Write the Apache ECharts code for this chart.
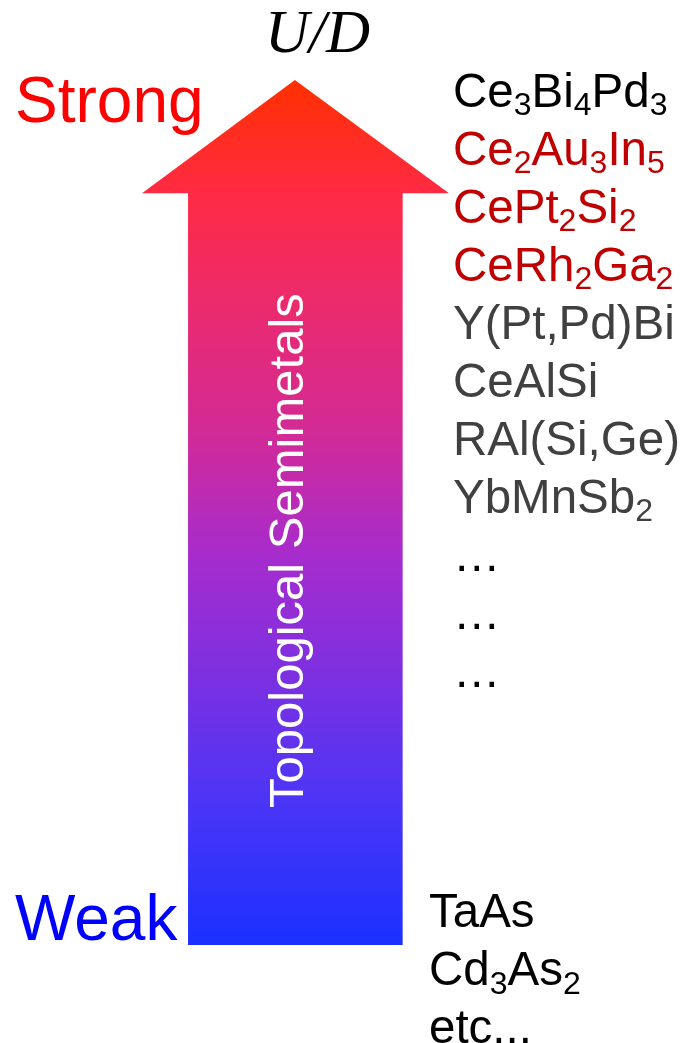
<!DOCTYPE html>
<html><head><meta charset="utf-8">
<script src="https://cdn.jsdelivr.net/npm/echarts@6/dist/echarts.min.js"></script>
<style>html,body{margin:0;padding:0;background:#fff}#c{width:687px;height:1043px}</style>
</head><body><div id="c"></div>
<script>
// ---- data ----
const axisTitle = 'U/D';
const scaleEnds = ['Weak', 'Strong'];
const scaleEndColors = ['#0000ff', '#ff0000'];
const arrowLabel = 'Topological Semimetals';
const uRange = [0, 1]; // U/D scale, weak -> strong
const strongMaterials = ['Ce3Bi4Pd3', 'Ce2Au3In5', 'CePt2Si2', 'CeRh2Ga2', 'Y(Pt,Pd)Bi', 'CeAlSi', 'RAl(Si,Ge)', 'YbMnSb2', '\u2026', '\u2026', '\u2026'];
const strongGroups = ['k', 'r', 'r', 'r', 'g', 'g', 'g', 'g', 'k', 'k', 'k'];
const weakMaterials = ['TaAs', 'Cd3As2', 'etc...'];
const weakGroups = ['k', 'k', 'k'];

// ---- styles ----
const groupColors = { k: '#000000', r: '#c00000', g: '#404040' };
const SANS = '"Liberation Sans", Arial, sans-serif';
const rich = {};
Object.keys(groupColors).forEach(function (k) {
  rich[k] = { color: groupColors[k], fontSize: 47.5, lineHeight: 58, fontFamily: SANS };
  rich[k + 's'] = { color: groupColors[k], fontSize: 32, lineHeight: 26, verticalAlign: 'bottom', fontFamily: SANS };
});
function formula(name, g) {
  return name.split(/(\d+)/).filter(function (s) { return s.length; }).map(function (s) {
    return /^\d+$/.test(s) ? '{' + g + 's|' + s + '}' : '{' + g + '|' + s + '}';
  }).join('');
}
const stops = [
  { offset: 0.000, color: '#1b30ff' },
  { offset: 0.168, color: '#4c35f6' },
  { offset: 0.305, color: '#7a30e2' },
  { offset: 0.443, color: '#a42ccf' },
  { offset: 0.590, color: '#d22a98' },
  { offset: 0.746, color: '#ec2a6c' },
  { offset: 0.868, color: '#ff2a44' },
  { offset: 1.000, color: '#ff3000' }
];

function renderArrow(params, api) {
  const lo = api.value(0), hi = api.value(1), span = hi - lo;
  const head = lo + span * 0.869;
  const P = function (fx, v) { return api.coord([fx, v]); };
  const pts = [P(0.150, lo), P(0.849, lo), P(0.849, head), P(1, head), P(0.498, hi), P(0, head), P(0.150, head)];
  const c = P(0.480, lo + span * 0.456);
  return {
    type: 'group', children: [
      { type: 'polygon', shape: { points: pts }, style: { fill: new echarts.graphic.LinearGradient(0, 1, 0, 0, stops) } },
      { type: 'text', x: c[0], y: c[1], rotation: Math.PI / 2,
        style: { text: arrowLabel, fill: '#ffffff', font: '49px ' + SANS, align: 'center', verticalAlign: 'middle' } }
    ]
  };
}

const hiddenX = function (i) { return { gridIndex: i, type: 'value', show: false, min: 0, max: 1 }; };
const labelAxisBase = {
  type: 'category', axisLine: { show: false }, axisTick: { show: false }, splitLine: { show: false }
};

const chart = echarts.init(document.getElementById('c'), null, { renderer: 'canvas' });
chart.setOption({
  animation: false,
  backgroundColor: '#ffffff',
  title: {
    text: axisTitle, left: 265, top: 5, padding: 0,
    textStyle: { fontFamily: '"Liberation Serif", "Times New Roman", serif', fontStyle: 'italic', fontWeight: 'normal', fontSize: 61, color: '#000' }
  },
  grid: [
    { left: 142, width: 307, top: 80, height: 865, outerBoundsMode: 'none' },
    { left: 4, width: 10, top: 104.5, height: 818, outerBoundsMode: 'none' },
    { left: 445, width: 10, top: 64.5, height: 638, outerBoundsMode: 'none' },
    { left: 421, width: 10, top: 885, height: 174, outerBoundsMode: 'none' }
  ],
  xAxis: [hiddenX(0), hiddenX(1), hiddenX(2), hiddenX(3)],
  yAxis: [
    { gridIndex: 0, type: 'value', show: false, min: uRange[0], max: uRange[1] },
    Object.assign({}, labelAxisBase, {
      gridIndex: 1, data: scaleEnds, boundaryGap: false,
      axisLabel: { inside: true, margin: 11, interval: 0, fontSize: 64, fontFamily: SANS,
        color: function (v, i) { return scaleEndColors[scaleEnds.indexOf(v)]; } }
    }),
    Object.assign({}, labelAxisBase, {
      gridIndex: 2, data: strongMaterials, inverse: true, boundaryGap: true,
      axisLabel: { inside: true, margin: 8, interval: 0, rich: rich,
        formatter: function (v, i) { return formula(v, strongGroups[i]); } }
    }),
    Object.assign({}, labelAxisBase, {
      gridIndex: 3, data: weakMaterials, inverse: true, boundaryGap: true,
      axisLabel: { inside: true, margin: 8, interval: 0, rich: rich,
        formatter: function (v, i) { return formula(v, weakGroups[i]); } }
    })
  ],
  series: [{
    type: 'custom', xAxisIndex: 0, yAxisIndex: 0, renderItem: renderArrow,
    data: [[uRange[0], uRange[1]]], silent: true
  }]
});
</script></body></html>
